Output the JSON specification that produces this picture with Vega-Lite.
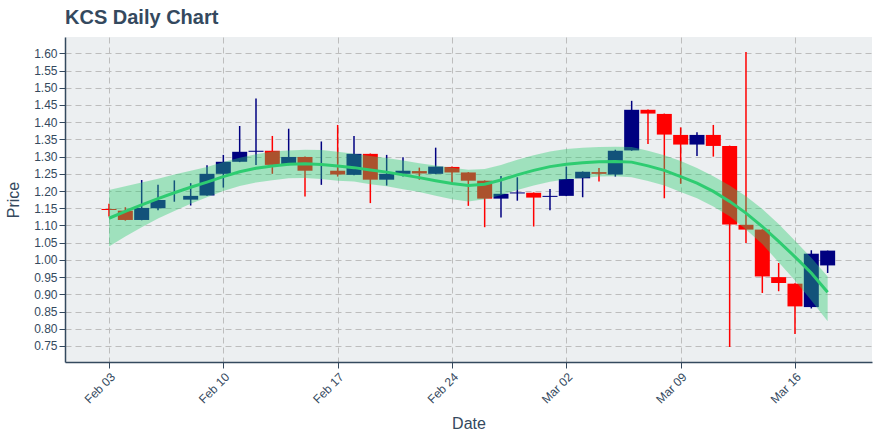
{
  "$schema": "https://vega.github.io/schema/vega-lite/v6.json",
  "width": 807,
  "height": 325,
  "autosize": {"type": "none"},
  "padding": {"left": 65, "top": 37, "right": 8, "bottom": 78},
  "background": "white",
  "config": {
    "font": "Liberation Sans",
    "view": {"fill": "#eceff1", "stroke": null},
    "axis": {
      "gridColor": "#bdbdbd",
      "gridDash": [6, 4],
      "gridWidth": 1,
      "domainColor": "#34495e",
      "domainWidth": 1.5,
      "tickColor": "#34495e",
      "tickSize": 6,
      "labelColor": "#34495e",
      "labelFontSize": 12,
      "labelOverlap": false,
      "titleColor": "#34495e",
      "titleFontSize": 16,
      "titleFontWeight": "normal"
    }
  },
  "title": {
    "text": "KCS Daily Chart",
    "anchor": "start",
    "frame": "group",
    "fontSize": 20,
    "fontWeight": "bold",
    "color": "#34495e",
    "offset": -7,
    "baseline": "alphabetic"
  },
  "data": {
    "values": [
      {"date": "2020-02-03", "open": 1.148, "high": 1.163, "low": 1.126, "close": 1.145, "mid": 1.121, "lo": 1.039, "up": 1.203},
      {"date": "2020-02-04", "open": 1.143, "high": 1.153, "low": 1.114, "close": 1.116, "mid": 1.141, "lo": 1.068, "up": 1.214},
      {"date": "2020-02-05", "open": 1.116, "high": 1.232, "low": 1.115, "close": 1.151, "mid": 1.160, "lo": 1.095, "up": 1.225},
      {"date": "2020-02-06", "open": 1.150, "high": 1.218, "low": 1.144, "close": 1.174, "mid": 1.178, "lo": 1.120, "up": 1.236},
      {"date": "2020-02-07", "open": 1.176, "high": 1.231, "low": 1.169, "close": 1.176, "mid": 1.195, "lo": 1.142, "up": 1.248},
      {"date": "2020-02-08", "open": 1.175, "high": 1.223, "low": 1.158, "close": 1.186, "mid": 1.211, "lo": 1.163, "up": 1.259},
      {"date": "2020-02-09", "open": 1.187, "high": 1.275, "low": 1.186, "close": 1.250, "mid": 1.226, "lo": 1.182, "up": 1.270},
      {"date": "2020-02-10", "open": 1.250, "high": 1.305, "low": 1.210, "close": 1.285, "mid": 1.242, "lo": 1.200, "up": 1.284},
      {"date": "2020-02-11", "open": 1.285, "high": 1.389, "low": 1.284, "close": 1.314, "mid": 1.256, "lo": 1.215, "up": 1.297},
      {"date": "2020-02-12", "open": 1.314, "high": 1.469, "low": 1.276, "close": 1.317, "mid": 1.266, "lo": 1.225, "up": 1.307},
      {"date": "2020-02-13", "open": 1.317, "high": 1.360, "low": 1.250, "close": 1.276, "mid": 1.273, "lo": 1.231, "up": 1.315},
      {"date": "2020-02-14", "open": 1.276, "high": 1.381, "low": 1.275, "close": 1.299, "mid": 1.278, "lo": 1.237, "up": 1.318},
      {"date": "2020-02-15", "open": 1.299, "high": 1.300, "low": 1.184, "close": 1.259, "mid": 1.279, "lo": 1.238, "up": 1.320},
      {"date": "2020-02-16", "open": 1.260, "high": 1.344, "low": 1.218, "close": 1.260, "mid": 1.277, "lo": 1.235, "up": 1.319},
      {"date": "2020-02-17", "open": 1.259, "high": 1.392, "low": 1.242, "close": 1.248, "mid": 1.273, "lo": 1.230, "up": 1.314},
      {"date": "2020-02-18", "open": 1.247, "high": 1.360, "low": 1.246, "close": 1.308, "mid": 1.268, "lo": 1.228, "up": 1.308},
      {"date": "2020-02-19", "open": 1.308, "high": 1.309, "low": 1.165, "close": 1.233, "mid": 1.261, "lo": 1.220, "up": 1.302},
      {"date": "2020-02-20", "open": 1.233, "high": 1.305, "low": 1.216, "close": 1.250, "mid": 1.255, "lo": 1.214, "up": 1.296},
      {"date": "2020-02-21", "open": 1.250, "high": 1.298, "low": 1.242, "close": 1.259, "mid": 1.247, "lo": 1.205, "up": 1.289},
      {"date": "2020-02-22", "open": 1.258, "high": 1.268, "low": 1.233, "close": 1.251, "mid": 1.239, "lo": 1.197, "up": 1.281},
      {"date": "2020-02-23", "open": 1.250, "high": 1.326, "low": 1.249, "close": 1.271, "mid": 1.230, "lo": 1.186, "up": 1.274},
      {"date": "2020-02-24", "open": 1.270, "high": 1.271, "low": 1.223, "close": 1.254, "mid": 1.222, "lo": 1.176, "up": 1.268},
      {"date": "2020-02-25", "open": 1.254, "high": 1.255, "low": 1.157, "close": 1.230, "mid": 1.216, "lo": 1.170, "up": 1.262},
      {"date": "2020-02-26", "open": 1.230, "high": 1.231, "low": 1.095, "close": 1.178, "mid": 1.220, "lo": 1.176, "up": 1.264},
      {"date": "2020-02-27", "open": 1.178, "high": 1.244, "low": 1.123, "close": 1.192, "mid": 1.232, "lo": 1.188, "up": 1.276},
      {"date": "2020-02-28", "open": 1.193, "high": 1.240, "low": 1.172, "close": 1.196, "mid": 1.247, "lo": 1.203, "up": 1.291},
      {"date": "2020-02-29", "open": 1.195, "high": 1.196, "low": 1.097, "close": 1.181, "mid": 1.260, "lo": 1.216, "up": 1.304},
      {"date": "2020-03-01", "open": 1.183, "high": 1.206, "low": 1.144, "close": 1.186, "mid": 1.271, "lo": 1.227, "up": 1.315},
      {"date": "2020-03-02", "open": 1.186, "high": 1.271, "low": 1.185, "close": 1.235, "mid": 1.278, "lo": 1.234, "up": 1.322},
      {"date": "2020-03-03", "open": 1.237, "high": 1.257, "low": 1.182, "close": 1.256, "mid": 1.282, "lo": 1.238, "up": 1.326},
      {"date": "2020-03-04", "open": 1.255, "high": 1.267, "low": 1.228, "close": 1.250, "mid": 1.285, "lo": 1.242, "up": 1.328},
      {"date": "2020-03-05", "open": 1.248, "high": 1.320, "low": 1.242, "close": 1.317, "mid": 1.286, "lo": 1.243, "up": 1.329},
      {"date": "2020-03-06", "open": 1.318, "high": 1.462, "low": 1.317, "close": 1.436, "mid": 1.284, "lo": 1.240, "up": 1.328},
      {"date": "2020-03-07", "open": 1.436, "high": 1.437, "low": 1.337, "close": 1.425, "mid": 1.273, "lo": 1.229, "up": 1.317},
      {"date": "2020-03-08", "open": 1.424, "high": 1.425, "low": 1.179, "close": 1.364, "mid": 1.260, "lo": 1.216, "up": 1.304},
      {"date": "2020-03-09", "open": 1.363, "high": 1.385, "low": 1.221, "close": 1.335, "mid": 1.242, "lo": 1.197, "up": 1.287},
      {"date": "2020-03-10", "open": 1.335, "high": 1.371, "low": 1.302, "close": 1.363, "mid": 1.223, "lo": 1.179, "up": 1.267},
      {"date": "2020-03-11", "open": 1.363, "high": 1.392, "low": 1.300, "close": 1.331, "mid": 1.199, "lo": 1.155, "up": 1.243},
      {"date": "2020-03-12", "open": 1.331, "high": 1.332, "low": 0.747, "close": 1.103, "mid": 1.170, "lo": 1.127, "up": 1.216},
      {"date": "2020-03-13", "open": 1.102, "high": 1.604, "low": 1.049, "close": 1.088, "mid": 1.136, "lo": 1.088, "up": 1.185},
      {"date": "2020-03-14", "open": 1.088, "high": 1.089, "low": 0.904, "close": 0.952, "mid": 1.097, "lo": 1.046, "up": 1.148},
      {"date": "2020-03-15", "open": 0.950, "high": 0.991, "low": 0.909, "close": 0.933, "mid": 1.054, "lo": 0.993, "up": 1.104},
      {"date": "2020-03-16", "open": 0.931, "high": 0.932, "low": 0.785, "close": 0.865, "mid": 1.009, "lo": 0.940, "up": 1.056},
      {"date": "2020-03-17", "open": 0.863, "high": 1.028, "low": 0.859, "close": 1.018, "mid": 0.962, "lo": 0.882, "up": 1.006},
      {"date": "2020-03-18", "open": 0.984, "high": 1.027, "low": 0.962, "close": 1.027, "mid": 0.906, "lo": 0.822, "up": 0.952}
    ]
  },
  "encoding": {
    "x": {
      "field": "date",
      "type": "temporal",
      "title": "Date",
      "scale": {
        "type": "utc",
        "nice": false,
        "padding": 0,
        "domain": [1580455200000, 1584724200000]
      },
      "axis": {
        "values": [1580688000000, 1581292800000, 1581897600000, 1582502400000, 1583107200000, 1583712000000, 1584316800000],
        "format": "%b %d",
        "labelAngle": -45,
        "labelPadding": 3,
        "titlePadding": 10
      }
    }
  },
  "layer": [
    {
      "mark": {"type": "rule", "strokeWidth": 1.5},
      "encoding": {
        "y": {
          "field": "low",
          "type": "quantitative",
          "title": "Price",
          "scale": {"domain": [0.7035, 1.6474], "nice": false, "zero": false, "padding": 0},
          "axis": {"values": [0.75, 0.8, 0.85, 0.9, 0.95, 1.0, 1.05, 1.1, 1.15, 1.2, 1.25, 1.3, 1.35, 1.4, 1.45, 1.5, 1.55, 1.6], "format": ".2f", "labelOverlap": false, "labelPadding": 2, "titlePadding": 12}
        },
        "y2": {"field": "high"},
        "color": {"condition": {"test": "datum.close >= datum.open", "value": "#000080"}, "value": "#ff0000"}
      }
    },
    {
      "mark": {"type": "bar", "width": 15},
      "encoding": {
        "y": {
          "field": "open",
          "type": "quantitative",
          "title": "Price",
          "axis": {"values": [0.75, 0.8, 0.85, 0.9, 0.95, 1.0, 1.05, 1.1, 1.15, 1.2, 1.25, 1.3, 1.35, 1.4, 1.45, 1.5, 1.55, 1.6], "format": ".2f", "labelOverlap": false, "labelPadding": 2, "titlePadding": 12}
        },
        "y2": {"field": "close"},
        "color": {"condition": {"test": "datum.close >= datum.open", "value": "#000080"}, "value": "#ff0000"}
      }
    },
    {
      "mark": {"type": "area", "color": "#2ecc71", "opacity": 0.4},
      "encoding": {
        "y": {
          "field": "lo",
          "type": "quantitative",
          "title": "Price",
          "axis": {"values": [0.75, 0.8, 0.85, 0.9, 0.95, 1.0, 1.05, 1.1, 1.15, 1.2, 1.25, 1.3, 1.35, 1.4, 1.45, 1.5, 1.55, 1.6], "format": ".2f", "labelOverlap": false, "labelPadding": 2, "titlePadding": 12}
        },
        "y2": {"field": "up"}
      }
    },
    {
      "mark": {"type": "line", "color": "#2ecc71", "strokeWidth": 3},
      "encoding": {
        "y": {
          "field": "mid",
          "type": "quantitative",
          "title": "Price",
          "axis": {"values": [0.75, 0.8, 0.85, 0.9, 0.95, 1.0, 1.05, 1.1, 1.15, 1.2, 1.25, 1.3, 1.35, 1.4, 1.45, 1.5, 1.55, 1.6], "format": ".2f", "labelOverlap": false, "labelPadding": 2, "titlePadding": 12}
        }
      }
    }
  ]
}
